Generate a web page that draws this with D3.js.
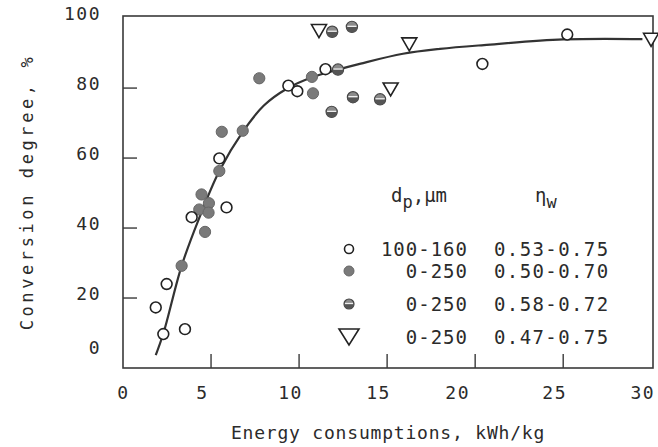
<!DOCTYPE html>
<html><head><meta charset="utf-8">
<script src="https://cdn.jsdelivr.net/npm/d3@7"></script>
<style>
body{margin:0;background:#fff}
text{font-family:"DejaVu Sans Mono",monospace;fill:#2b2b2b}
</style>
</head><body>
<svg id="c" width="658" height="447"></svg>
<script>
// ---- data ----
const openX   = [1.86, 2.48, 2.29, 3.52, 3.90, 5.47, 5.88, 9.39, 9.90, 11.50, 20.41, 25.23];
const openY   = [17.3, 24.0, 9.7, 11.1, 43.1, 59.9, 45.9, 80.7, 79.1, 85.4, 86.9, 95.3];
const filledX = [3.33, 4.46, 4.88, 4.33, 4.86, 4.66, 5.47, 5.61, 6.80, 7.74, 10.73, 10.79];
const filledY = [29.2, 49.6, 47.1, 45.3, 44.4, 38.9, 56.3, 67.5, 67.8, 82.8, 83.2, 78.5];
const halfX   = [11.88, 13.00, 12.21, 11.85, 13.06, 14.60];
const halfY   = [96.1, 97.5, 85.3, 73.2, 77.4, 76.8];
const triX    = [11.13, 16.26, 15.20, 29.99];
const triY    = [96.3, 92.5, 79.6, 93.8];
const curveX  = [1.86, 2.3, 3.33, 4.3, 5.47, 6.8, 8.0, 9.3, 10.7, 12.0, 13.5, 15.9, 18.0, 20.5, 25.0, 29.5];
const curveY  = [3.7, 10.0, 29.2, 42.5, 56.3, 67.5, 75.0, 79.8, 83.0, 85.0, 87.0, 89.8, 91.2, 92.3, 93.9, 94.0];
const xTicks  = [0, 5, 10, 15, 20, 25, 30];
const yTicks  = [0, 20, 40, 60, 80, 100];
const legendD = ["100-160", "0-250", "0-250", "0-250"];
const legendN = ["0.53-0.75", "0.50-0.70", "0.58-0.72", "0.47-0.75"];

// ---- layout ----
const svg = d3.select("#c");
const x = d3.scaleLinear().domain([0, 30.1]).range([123, 653]);
const y = d3.scaleLinear().domain([0, 100.6]).range([368, 16]);
const ink = "#3a3a3a";

// frame
svg.append("rect").attr("x", x(0)).attr("y", y(100.6))
  .attr("width", x(30.1) - x(0)).attr("height", y(0) - y(100.6))
  .attr("fill", "none").attr("stroke", ink).attr("stroke-width", 1.6);

// x axis (ticks inward)
const xa = svg.append("g").attr("transform", `translate(0,${y(0)})`)
  .call(d3.axisBottom(x).tickValues(xTicks).tickSize(0).tickPadding(18).tickFormat(d3.format("d")));
xa.select(".domain").remove();
xa.selectAll("text").attr("font-size", 18).attr("letter-spacing", 1.5)
  .attr("font-family", '"DejaVu Sans Mono",monospace').attr("fill", "#2b2b2b")
  .attr("dx", d => d === 0 ? 0 : (d === 20 ? -18 : -9));
svg.append("g").selectAll("line").data(xTicks.filter(d => d > 0 && d < 30)).join("line")
  .attr("x1", d => x(d)).attr("x2", d => x(d)).attr("y1", y(0)).attr("y2", y(0) - 14)
  .attr("stroke", ink).attr("stroke-width", 1.4);

// y axis
const ya = svg.append("g").attr("transform", `translate(${x(0)},0)`)
  .call(d3.axisLeft(y).tickValues(yTicks).tickSize(0).tickPadding(22).tickFormat(d3.format("d")));
ya.select(".domain").remove();
ya.selectAll("text").attr("font-size", 18).attr("letter-spacing", 1.5)
  .attr("font-family", '"DejaVu Sans Mono",monospace').attr("fill", "#2b2b2b")
  .attr("dy", d => d === 0 ? "-0.8em" : "0.1em");
svg.append("g").selectAll("line").data(yTicks.filter(d => d > 0 && d < 100)).join("line")
  .attr("x1", x(0)).attr("x2", x(0) + 14).attr("y1", d => y(d)).attr("y2", d => y(d))
  .attr("stroke", ink).attr("stroke-width", 1.4);

// axis titles
svg.append("text").attr("x", (x(0) + x(30.1)) / 2).attr("y", 439)
  .attr("text-anchor", "middle").attr("font-size", 18).attr("letter-spacing", 0.8)
  .text("Energy consumptions, kWh/kg");
svg.append("text").attr("transform", `translate(33,${(y(0) + y(100.6)) / 2}) rotate(-90)`)
  .attr("text-anchor", "middle").attr("font-size", 17).attr("letter-spacing", 3.6)
  .text("Conversion degree, %");

// fitted curve
const pts = curveX.map((v, i) => [v, curveY[i]]);
svg.append("path").datum(pts)
  .attr("d", d3.line().x(d => x(d[0])).y(d => y(d[1])).curve(d3.curveCatmullRom.alpha(0.5)))
  .attr("fill", "none").attr("stroke", "#333").attr("stroke-width", 2.2);

// marker helpers
const triPath = (w, h) => `M${-w/2},${-h/2}L${w/2},${-h/2}L0,${h/2}Z`;
function openC(g, cx, cy, r) {
  g.append("circle").attr("cx", cx).attr("cy", cy).attr("r", r)
    .attr("fill", "#fff").attr("stroke", "#222").attr("stroke-width", 1.6);
}
function filledC(g, cx, cy, r) {
  g.append("circle").attr("cx", cx).attr("cy", cy).attr("r", r)
    .attr("fill", "#7a7a7a").attr("stroke", "#666").attr("stroke-width", 1);
}
function halfC(g, cx, cy, r) {
  g.append("circle").attr("cx", cx).attr("cy", cy).attr("r", r)
    .attr("fill", "#8a8a8a").attr("stroke", "#444").attr("stroke-width", 1.2);
  g.append("path")
    .attr("d", `M${cx - r},${cy}A${r},${r} 0 0 0 ${cx + r},${cy}Z`)
    .attr("fill", "#555");
  g.append("line").attr("x1", cx - r + 1).attr("x2", cx + r - 1).attr("y1", cy - 0.5).attr("y2", cy - 0.5)
    .attr("stroke", "#eee").attr("stroke-width", 1.3);
}
function tri(g, cx, cy, w, h) {
  g.append("path").attr("transform", `translate(${cx},${cy})`).attr("d", triPath(w, h))
    .attr("fill", "#fff").attr("stroke", "#222").attr("stroke-width", 1.6);
}

const m = svg.append("g");
filledX.forEach((v, i) => filledC(m, x(v), y(filledY[i]), 5.6));
halfX.forEach((v, i) => halfC(m, x(v), y(halfY[i]), 5.6));
openX.forEach((v, i) => openC(m, x(v), y(openY[i]), 5.4));
triX.forEach((v, i) => tri(m, x(v), y(triY[i]), 15, 13));

// legend
const lg = svg.append("g");
const rowY = [249, 271, 304, 337];
openC(lg, 349, rowY[0], 4.5);
filledC(lg, 349, rowY[1], 5);
halfC(lg, 349, rowY[2], 5);
tri(lg, 349, rowY[3], 20, 16);
legendD.forEach((t, i) => lg.append("text").attr("x", 468).attr("y", rowY[i] + 7)
  .attr("text-anchor", "end").attr("font-size", 19).attr("letter-spacing", 1).text(t));
legendN.forEach((t, i) => lg.append("text").attr("x", 494).attr("y", rowY[i] + 7)
  .attr("font-size", 19).attr("letter-spacing", 1.4).text(t));
const h1 = lg.append("text").attr("x", 391).attr("y", 202).attr("font-size", 19);
h1.append("tspan").text("d");
h1.append("tspan").attr("dy", 6).attr("font-size", 17).text("p");
h1.append("tspan").attr("dy", -6).text(",\u00b5m");
const h2 = lg.append("text").attr("x", 535).attr("y", 202).attr("font-size", 19);
h2.append("tspan").text("\u03b7");
h2.append("tspan").attr("dy", 6).attr("font-size", 17).text("w");
</script>
</body></html>
